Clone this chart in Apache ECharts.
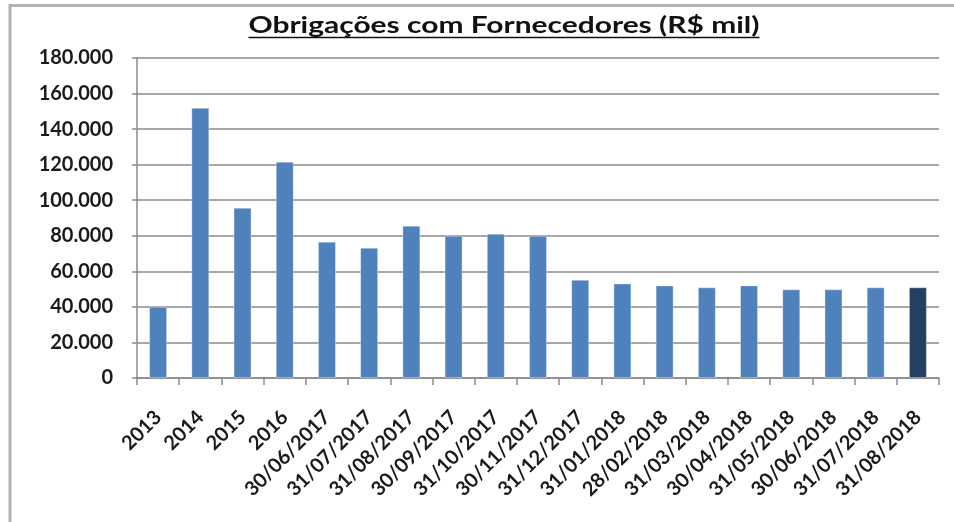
<!DOCTYPE html>
<html>
<head>
<meta charset="utf-8">
<script src="https://cdn.jsdelivr.net/npm/echarts@6/dist/echarts.min.js"></script>
<style>
  html, body { margin: 0; padding: 0; background: #fff; }
  #chart { width: 954px; height: 522px; }
</style>
</head>
<body>
<div id="chart"></div>
<script>
// dados
const categories = [
  '2013', '2014', '2015', '2016',
  '30/06/2017', '31/07/2017', '31/08/2017', '30/09/2017', '31/10/2017',
  '30/11/2017', '31/12/2017', '31/01/2018', '28/02/2018', '31/03/2018',
  '30/04/2018', '31/05/2018', '30/06/2018', '31/07/2018', '31/08/2018'
]
const values = [
  40100, 152000, 95800, 121700,
  76700, 73300, 85700, 80000, 81200,
  80000, 55300, 53200, 52100, 51000,
  52100, 49900, 49900, 51000, 51000
]
const titleText = 'Obrigações com Fornecedores (R$ mil)'

const FONT = 'Lato, "Open Sans", sans-serif'
const TITLE_SIZE = 22
const TITLE_W = 511   // largura do título no original (texto é mais "largo")
const BAR = '#4F81BD'
const BAR_LAST = '#254061'

// formato 180.000
const fmt = v => String(v).replace(/\B(?=(\d{3})+(?!\d))/g, '.')

// mede o título para esticar na horizontal e sublinhar
const ctx = document.createElement('canvas').getContext('2d')
ctx.font = 'bold ' + TITLE_SIZE + 'px ' + FONT
const rawW = ctx.measureText(titleText).width
const sx = TITLE_W / rawW
const titleCx = 504

const chart = echarts.init(document.getElementById('chart'))

chart.setOption({
  animation: false,
  graphic: [
    {
      type: 'rect',
      shape: { x: 10, y: 5.5, width: 1000, height: 600 },
      style: { fill: 'none', stroke: '#b3b3b3', lineWidth: 3 },
      silent: true
    },
    {
      type: 'text',
      x: titleCx,
      y: 25.5,
      scaleX: sx,
      style: {
        text: titleText,
        fontFamily: FONT,
        fontSize: TITLE_SIZE,
        fontWeight: 'bold',
        fill: '#111',
        align: 'center',
        verticalAlign: 'middle'
      },
      silent: true
    },
    {
      type: 'line',
      shape: { x1: titleCx - TITLE_W / 2, y1: 37.5, x2: titleCx + TITLE_W / 2, y2: 37.5 },
      style: { stroke: '#111', lineWidth: 1.5 },
      silent: true
    }
  ],
  grid: { left: 137, right: 15, top: 58, bottom: 144 },
  xAxis: {
    type: 'category',
    data: categories,
    axisLine: { lineStyle: { color: '#8a8a8a', width: 1.5 } },
    axisTick: { show: true, length: 7, lineStyle: { color: '#8a8a8a', width: 1.5 } },
    axisLabel: {
      rotate: 45,
      margin: 36,
      interval: 0,
      fontFamily: FONT,
      fontSize: 20,
      fontWeight: 'bold',
      color: '#1a1a1a'
    }
  },
  yAxis: {
    type: 'value',
    min: 0,
    max: 180000,
    interval: 20000,
    axisLine: { show: true, lineStyle: { color: '#8a8a8a', width: 1.5 } },
    axisTick: { show: true, length: 5, lineStyle: { color: '#8a8a8a', width: 1.5 } },
    splitLine: { lineStyle: { color: '#8a8a8a', width: 1.5 } },
    axisLabel: {
      formatter: fmt,
      margin: 24,
      fontFamily: FONT,
      fontSize: 20,
      fontWeight: 'bold',
      color: '#1a1a1a'
    }
  },
  series: [
    {
      type: 'bar',
      data: values.map((v, i) => ({
        value: v,
        itemStyle: { color: i === values.length - 1 ? BAR_LAST : BAR }
      })),
      barWidth: 18,
      itemStyle: { borderColor: 'rgba(255,255,255,0.35)', borderWidth: 1 }
    }
  ]
})
</script>
</body>
</html>
